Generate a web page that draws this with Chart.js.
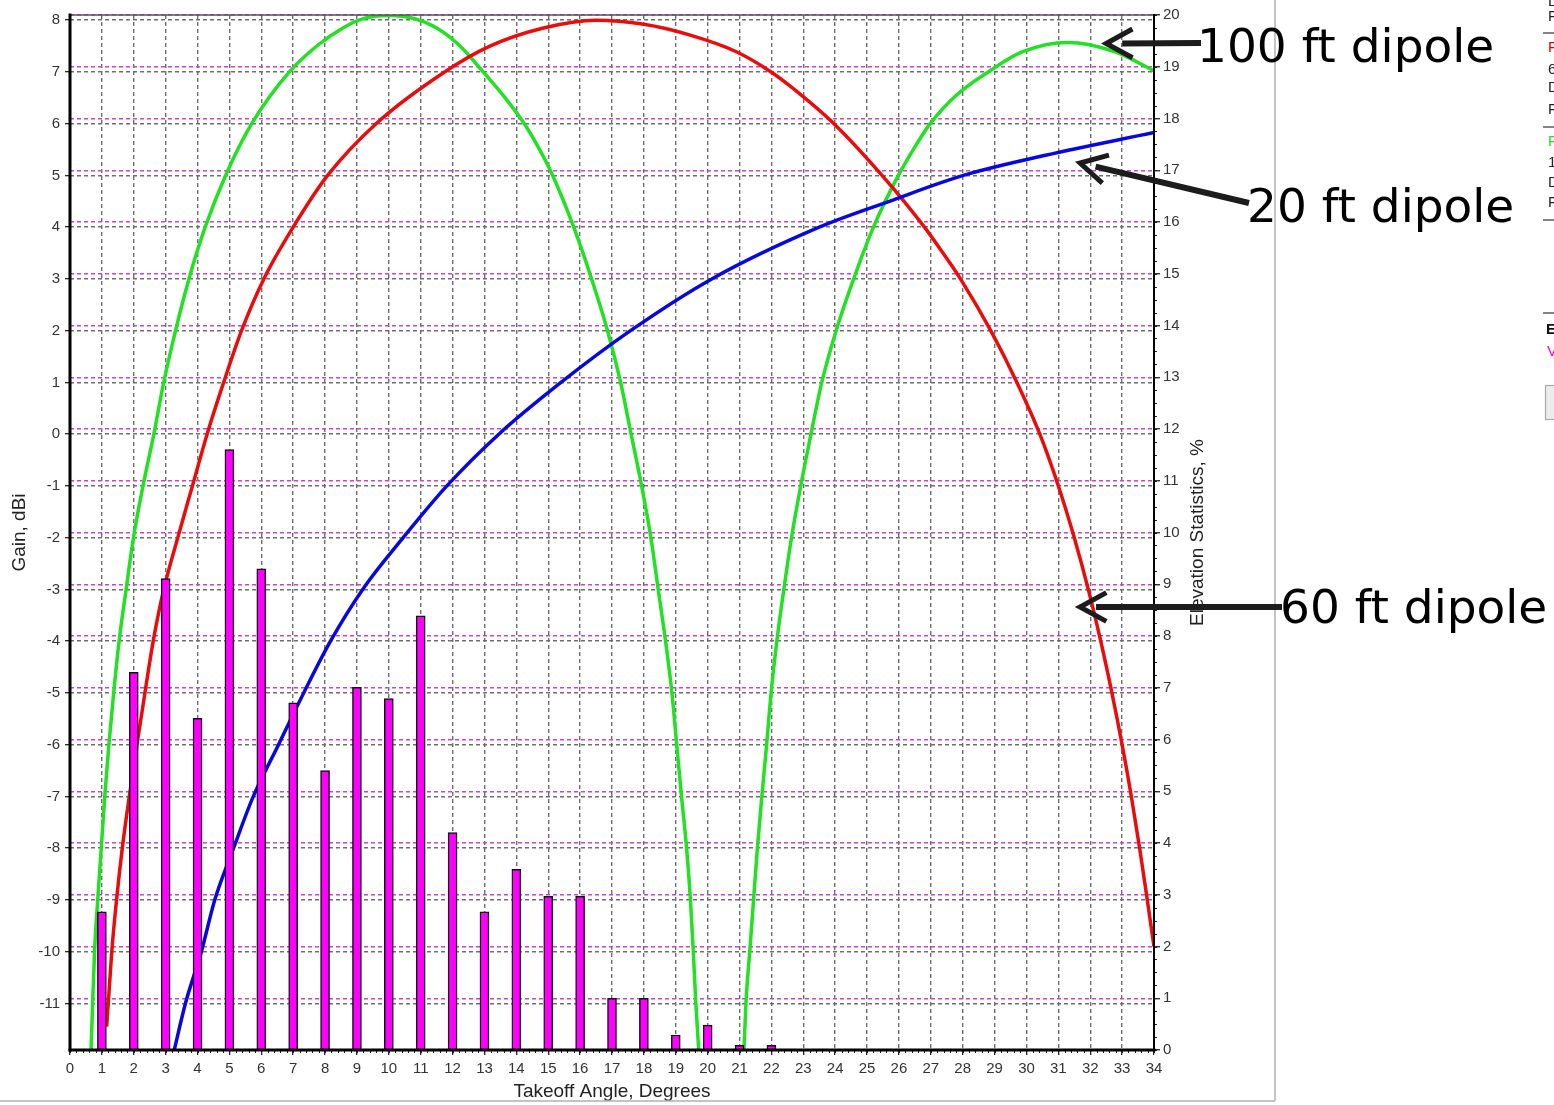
<!DOCTYPE html>
<html>
<head>
<meta charset="utf-8">
<script src="https://cdn.jsdelivr.net/npm/chart.js@4.4.1/dist/chart.umd.min.js"></script>
<style>
html,body{margin:0;padding:0;background:#fff;}
canvas{display:block;}
</style>
</head>
<body>
<canvas id="c" width="1554" height="1105"></canvas>
<script>
// ---------- data ----------
const angleTicks = [0,1,2,3,4,5,6,7,8,9,10,11,12,13,14,15,16,17,18,19,20,21,22,23,24,25,26,27,28,29,30,31,32,33,34];
const gainTicks = [-11,-10,-9,-8,-7,-6,-5,-4,-3,-2,-1,0,1,2,3,4,5,6,7,8];
const statTicks = [0,1,2,3,4,5,6,7,8,9,10,11,12,13,14,15,16,17,18,19,20];

const barAngles = [1,2,3,4,5,6,7,8,9,10,11,12,13,14,15,16,17,18,19,20,21,22];
const barPercents = [2.67,7.30,9.11,6.41,11.6,9.30,6.71,5.40,7.01,6.79,8.39,4.20,2.67,3.49,2.97,2.97,1.0,1.0,0.29,0.48,0.09,0.09];

// 100 ft dipole (green)
const dip100Angles = [0.66,0.71,0.77,0.87,0.98,1.09,1.22,1.37,1.54,1.76,1.99,2.29,2.63,2.94,3.31,3.73,4.24,4.88,5.70,6.88,7.78,8.56,9.2,10.0,10.8,11.5,12.2,12.96,13.65,14.25,14.73,15.14,15.8,16.36,16.86,17.27,17.6,17.93,18.22,18.45,18.68,18.88,19.03,19.18,19.34,19.46,19.55,19.63,19.72,
                      20.4,
                      21.14,21.2,21.32,21.44,21.56,21.7,21.85,21.99,22.17,22.39,22.63,22.92,23.24,23.58,24.03,24.58,25.2,25.98,26.45,26.98,27.8,28.8,29.88,31.3,32.78,34];
const dip100Gain = [-11.9,-11,-10,-9,-8,-7,-6,-5,-4,-3,-2,-1,0,1,2,3,4,5,6,7,7.52,7.85,8.03,8.09,8.03,7.85,7.52,7.0,6.5,6,5.5,5,4,3,2,1,0,-1,-2,-3,-4,-5,-6,-7,-8,-9,-10,-11,-11.9,
                    null,
                    -11.9,-11,-10,-9,-8,-7,-6,-5,-4,-3,-2,-1,0,1,2,3,4,5,5.5,6,6.55,7,7.39,7.57,7.39,7.02];

// 60 ft dipole (red)
const dip60Angles = [1.15,1.20,1.31,1.46,1.64,1.86,2.10,2.35,2.61,2.94,3.38,3.84,4.30,4.82,5.38,6.08,7.0,8.08,9.6,11.75,13.17,14.85,16.5,18.0,19.4,20.9,21.99,22.6,23.96,25.47,26.8,27.38,27.93,28.88,29.7,30.42,31.0,31.5,31.94,32.33,32.68,33.0,33.29,33.55,33.79,34];
const dip60Gain = [-11.45,-11,-10,-9,-8,-7,-6,-5,-4,-3,-2,-1,0,1,2,3,4,5,6,7,7.5,7.85,8.0,7.92,7.72,7.39,7,6.72,6,5,4,3.5,3,2,1,0,-1,-2,-3,-4,-5,-6,-7,-8,-9,-9.9];

// 20 ft dipole (blue)
const dip20Angles = [3.27,3.62,4.12,4.54,5.13,5.75,6.54,7.33,8.17,9.18,10.45,11.82,13.45,15.4,17.58,20.13,23.5,25.7,28.02,30.6,34];
const dip20Gain = [-11.9,-11,-10,-9,-8,-7,-6,-5,-4,-3,-2,-1,0,1,2,3,4,4.5,5,5.39,5.83];

const gainMin = -11.9, gainMax = 8.1;
const statMin = 0, statMax = 20;
const angleMin = 0, angleMax = 34;
const angleMinorStep = 0.2, statMinorStep = 0.25;

const toPts = (xs, ys) => xs.map((x, i) => ({x: x, y: ys[i]}));

// annotation labels (arrow tips anchored in data coordinates)
const notes = [
  {text: '100 ft dipole', tipAngle: 32.5, tipGain: 7.55, tailX: 1201, tailY: 43, textX: 1197, textY: 62},
  {text: '20 ft dipole', tipAngle: 31.68, tipGain: 5.24, tailX: 1249, tailY: 203, textX: 1247, textY: 222},
  {text: '60 ft dipole', tipAngle: 31.68, tipGain: -3.34, tailX: 1282, tailY: 607, textX: 1280, textY: 623}
];

const FONT = '"Liberation Sans", Arial, sans-serif';

function line(ctx, x1, y1, x2, y2) { ctx.beginPath(); ctx.moveTo(x1, y1); ctx.lineTo(x2, y2); ctx.stroke(); }

const decor = {
  id: 'decor',
  afterDatasetsDraw(chart) {
    const {ctx, chartArea: a, scales} = chart;
    ctx.save();
    // minor ticks
    ctx.strokeStyle = '#222'; ctx.lineWidth = 1;
    for (let i = 0; i <= Math.round((angleMax - angleMin) / angleMinorStep); i++) {
      const px = Math.round(scales.x.getPixelForValue(angleMin + i * angleMinorStep)) + 0.5;
      line(ctx, px, a.bottom, px, a.bottom + 3);
    }
    for (let i = 0; i <= Math.round((statMax - statMin) / statMinorStep); i++) {
      const py = Math.round(scales.y2.getPixelForValue(statMin + i * statMinorStep)) + 0.5;
      line(ctx, a.right, py, a.right + 3, py);
    }
    // frame
    ctx.lineCap = 'square';
    ctx.strokeStyle = '#555'; ctx.lineWidth = 1.5; line(ctx, a.left, a.top, a.right, a.top);
    ctx.strokeStyle = '#000'; ctx.lineWidth = 2; line(ctx, a.right, a.top, a.right, a.bottom);
    ctx.lineWidth = 3; line(ctx, a.left, a.top, a.left, a.bottom);
    line(ctx, a.left, a.bottom, a.right, a.bottom);
    ctx.restore();
  },
  afterDraw(chart) {
    const {ctx, chartArea: a, scales} = chart;
    ctx.save();
    // right axis title (reads bottom to top)
    ctx.save();
    ctx.translate(a.right + 44, (a.top + a.bottom) / 2);
    ctx.rotate(-Math.PI / 2);
    ctx.font = '19px ' + FONT;
    ctx.fillStyle = '#222';
    ctx.textAlign = 'center'; ctx.textBaseline = 'middle';
    ctx.fillText('Elevation Statistics, %', 0, 0);
    ctx.restore();

    // window borders
    ctx.strokeStyle = '#b0b0b0'; ctx.lineWidth = 1.5;
    line(ctx, 1275, 0, 1275, 1101);
    line(ctx, 0, 1101, 1275, 1101);

    // annotations
    notes.forEach(n => {
      const tx = scales.x.getPixelForValue(n.tipAngle);
      const ty = scales.y.getPixelForValue(n.tipGain);
      const ang = Math.atan2(n.tailY - ty, n.tailX - tx);
      ctx.strokeStyle = '#1c1c1c';
      ctx.lineCap = 'butt';
      ctx.lineWidth = 6;
      line(ctx, tx + Math.cos(ang) * 16, ty + Math.sin(ang) * 16, n.tailX, n.tailY);
      ctx.lineWidth = 5;
      ctx.lineJoin = 'miter';
      const L = 30, da = 0.5;
      ctx.beginPath();
      ctx.moveTo(tx + Math.cos(ang - da) * L, ty + Math.sin(ang - da) * L);
      ctx.lineTo(tx, ty);
      ctx.lineTo(tx + Math.cos(ang + da) * L, ty + Math.sin(ang + da) * L);
      ctx.stroke();
      ctx.font = '47px "DejaVu Sans", sans-serif';
      ctx.fillStyle = '#000';
      ctx.textAlign = 'left'; ctx.textBaseline = 'alphabetic';
      ctx.fillText(n.text, n.textX, n.textY);
    });

    // partial side panel fragments (cut by the window edge)
    ctx.font = '15px ' + FONT;
    ctx.textAlign = 'left'; ctx.textBaseline = 'middle';
    const frag = [['L',2,'#222'],['F',17,'#222'],['F',48,'#e00000'],['6',70,'#222'],['D',88,'#222'],['F',110,'#222'],
                  ['F',142,'#22dd22'],['1',163,'#222'],['D',183,'#222'],['F',203,'#222']];
    frag.forEach(f => { ctx.fillStyle = f[2]; ctx.fillText(f[0], 1548, f[1]); });
    ctx.font = 'bold 15px ' + FONT; ctx.fillStyle = '#111'; ctx.fillText('E', 1546, 330);
    ctx.font = '15px ' + FONT; ctx.fillStyle = '#ee00ee'; ctx.fillText('V', 1547, 352);
    ctx.strokeStyle = '#333'; ctx.lineWidth = 1.2;
    [33, 127, 220, 313].forEach(y => line(ctx, 1543, y, 1554, y));
    ctx.fillStyle = '#ececec'; ctx.fillRect(1545, 385, 9, 35);
    ctx.strokeStyle = '#aaa'; ctx.strokeRect(1545.5, 385.5, 10, 34);
    ctx.restore();
  }
};

const tickFont = {family: FONT, size: 15};
const titleFont = {family: FONT, size: 19};

new Chart(document.getElementById('c'), {
  type: 'line',
  data: {
    datasets: [
      {type: 'bar', label: 'Elevation Statistics', data: toPts(barAngles, barPercents), yAxisID: 'y2', xAxisID: 'x',
       backgroundColor: '#ff00ff', borderColor: '#111', borderWidth: 1.5, barThickness: 9, order: 0, grouped: false},
      {label: '20 ft dipole', data: toPts(dip20Angles, dip20Gain), yAxisID: 'y', borderColor: '#0808dc', borderWidth: 3.5,
       pointRadius: 0, cubicInterpolationMode: 'monotone', fill: false, order: 1},
      {label: '60 ft dipole', data: toPts(dip60Angles, dip60Gain), yAxisID: 'y', borderColor: '#e80c0c', borderWidth: 3.5,
       pointRadius: 0, cubicInterpolationMode: 'monotone', fill: false, order: 2},
      {label: '100 ft dipole', data: toPts(dip100Angles, dip100Gain), yAxisID: 'y', borderColor: '#22e022', borderWidth: 3.5,
       pointRadius: 0, cubicInterpolationMode: 'monotone', fill: false, spanGaps: false, order: 3}
    ]
  },
  options: {
    responsive: false,
    maintainAspectRatio: false,
    animation: false,
    layout: {padding: {left: 0, right: 350, top: 15, bottom: 0}},
    plugins: {legend: {display: false}, tooltip: {enabled: false}},
    scales: {
      x: {
        type: 'linear', position: 'bottom', min: angleMin, max: angleMax, offset: false,
        afterBuildTicks: s => { s.ticks = angleTicks.map(v => ({value: v})); },
        afterFit: s => { s.height = 55; },
        grid: {color: '#6e6e6e', lineWidth: 1.4, drawTicks: true, tickLength: 5, tickColor: '#111', tickWidth: 1.2, offset: false},
        border: {display: false, dash: [4, 3]},
        ticks: {font: tickFont, color: '#333', padding: 5, autoSkip: false, maxRotation: 0},
        title: {display: true, text: 'Takeoff Angle, Degrees', font: titleFont, color: '#222', padding: {top: 0, bottom: 2}}
      },
      y: {
        type: 'linear', position: 'left', min: gainMin, max: gainMax,
        afterBuildTicks: s => { s.ticks = gainTicks.map(v => ({value: v})); },
        afterFit: s => { s.width = 70; },
        grid: {color: '#6e6e6e', lineWidth: 1.4, drawTicks: true, tickLength: 5, tickColor: '#111', tickWidth: 1.2},
        border: {display: false, dash: [4, 3]},
        ticks: {font: tickFont, color: '#333', padding: 5, autoSkip: false},
        title: {display: true, text: 'Gain, dBi', font: titleFont, color: '#222', padding: {top: 8, bottom: 0}}
      },
      y2: {
        type: 'linear', position: 'right', min: statMin, max: statMax,
        afterBuildTicks: s => { s.ticks = statTicks.map(v => ({value: v})); },
        afterFit: s => { s.width = 50; },
        grid: {color: '#c844c8', lineWidth: 1.5, drawTicks: true, tickLength: 6, tickColor: '#111', tickWidth: 1.2},
        border: {display: false, dash: [4, 3]},
        ticks: {font: tickFont, color: '#333', padding: 3, autoSkip: false},
        title: {display: false}
      }
    }
  },
  plugins: [decor]
});
</script>
</body>
</html>
